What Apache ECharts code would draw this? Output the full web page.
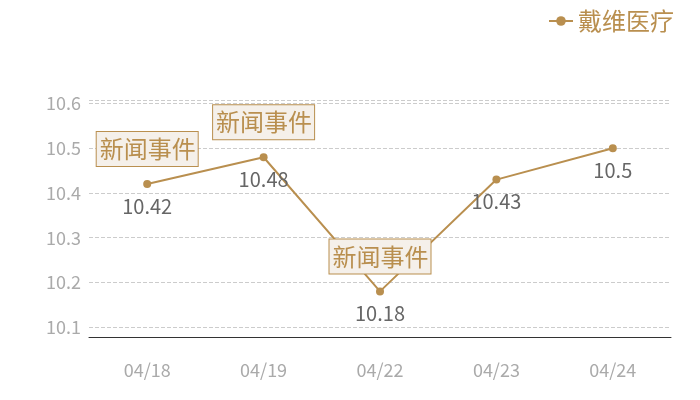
<!DOCTYPE html>
<html>
<head>
<meta charset="utf-8">
<script src="https://cdn.jsdelivr.net/npm/echarts@6/dist/echarts.min.js"></script>
<style>html,body{margin:0;padding:0;background:#fff}#c{width:700px;height:400px}</style>
</head>
<body>
<div id="c"></div>
<script>
var seriesName = '戴维医疗';
var categories = ['04/18', '04/19', '04/22', '04/23', '04/24'];
var values = [10.42, 10.48, 10.18, 10.43, 10.5];
var eventCategories = ['04/18', '04/19', '04/22'];
var eventValues = [10.42, 10.48, 10.18];
var eventText = '新闻事件';

var gold = '#b98f4f';
var chart = echarts.init(document.getElementById('c'));
chart.setOption({
  animation: false,
  textStyle: { fontFamily: 'Noto Sans CJK SC' },
  legend: {
    right: 21, top: 4,
    itemWidth: 24, itemHeight: 12, itemGap: 6,
    textStyle: { color: gold, fontSize: 24, fontFamily: 'Noto Sans CJK SC' },
    data: [seriesName]
  },
  grid: { left: 89, right: 29, top: 100, bottom: 63 },
  xAxis: {
    type: 'category',
    data: categories,
    axisLine: { lineStyle: { color: '#333', width: 1 } },
    axisTick: { show: false },
    axisLabel: { color: '#aaaaaa', fontSize: 18, margin: 24 }
  },
  yAxis: {
    type: 'value',
    min: 10.078,
    max: 10.608,
    axisLine: { show: false },
    axisTick: { show: false },
    axisLabel: { color: '#aaaaaa', fontSize: 18, margin: 8, showMinLabel: false, showMaxLabel: false },
    splitLine: { lineStyle: { color: '#cccccc', type: 'dashed', width: 1 } }
  },
  series: [{
    name: seriesName,
    type: 'line',
    data: values,
    symbol: 'circle',
    symbolSize: 8,
    lineStyle: { color: gold, width: 2 },
    itemStyle: { color: gold },
    label: { show: true, position: 'bottom', distance: 8, color: '#666666', fontSize: 20 },
    markPoint: {
      symbol: 'circle',
      symbolSize: 1,
      itemStyle: { color: 'rgba(0,0,0,0)' },
      label: {
        show: true,
        position: 'inside',
        offset: [0, -35],
        formatter: eventText,
        color: gold,
        fontSize: 24,
        lineHeight: 27,
        backgroundColor: '#f5f0ea',
        borderColor: gold,
        borderWidth: 1,
        padding: [4, 2, 3, 3]
      },
      data: eventCategories.map(function (c, i) { return { coord: [c, eventValues[i]] }; })
    }
  }]
});
</script>
</body>
</html>
